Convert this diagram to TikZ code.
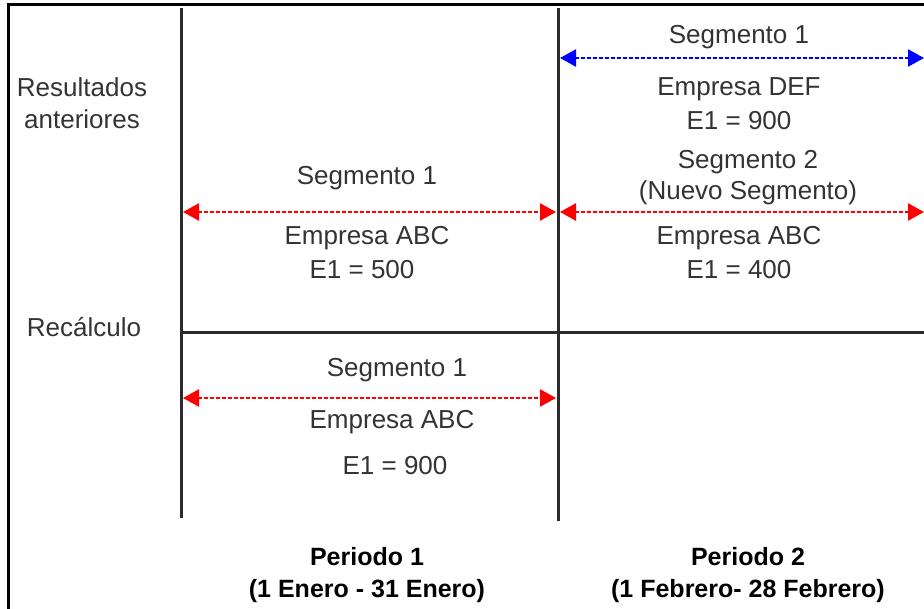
\documentclass[tikz,border=0pt]{standalone}
\usepackage{fontspec}
\setmainfont{Liberation Sans}
\usetikzlibrary{arrows.meta}
\definecolor{txt}{HTML}{333333}
\definecolor{ln}{HTML}{2B2B2B}
\definecolor{segred}{HTML}{FF0000}
\definecolor{segblue}{HTML}{0000FF}
\tikzset{
  lbl/.style={font=\fontsize{26}{30}\selectfont, text=txt, inner sep=0pt, anchor=center},
  bold/.style={font=\fontsize{25}{30}\selectfont\bfseries, text=black, inner sep=0pt, anchor=center},
  grid/.style={draw=ln, line width=3pt},
  frame/.style={draw=black, line width=3pt},
  segarrow/.style={line width=2.5pt, dash pattern=on 4pt off 2pt, {Triangle[length=16pt,width=17pt]}-{Triangle[length=16pt,width=17pt]}},
  redarrow/.style={segarrow, draw=segred, fill=segred},
  bluearrow/.style={segarrow, draw=segblue, fill=segblue}
}
\begin{document}
\begin{tikzpicture}[x=1pt,y=-1pt]
\useasboundingbox (0,0) rectangle (924,609);
\clip (0,0) rectangle (924,609);
% frame
\coordinate (fTL) at (8,5);
\coordinate (fTR) at (930,5);
\coordinate (fBL) at (8,615);
\draw[frame] (fTR) -- (fTL) -- (fBL);
% grid lines
\coordinate (v1t) at (181,8);
\coordinate (v1b) at (181,518);
\coordinate (v2t) at (558,8);
\coordinate (v2b) at (558,521);
\coordinate (hl) at (181,333);
\coordinate (hr) at (930,333);
\draw[grid] (v1t) -- (v1b);
\draw[grid] (v2t) -- (v2b);
\draw[grid] (hl) -- (hr);
% arrows
\coordinate (b1l) at (560,58);
\coordinate (b1r) at (924,58);
\coordinate (r1l) at (183,212);
\coordinate (r1r) at (556,212);
\coordinate (r2l) at (560,212);
\coordinate (r2r) at (924,212);
\coordinate (r3l) at (183,398);
\coordinate (r3r) at (556,398);
\draw[bluearrow] (b1l) -- (b1r);
\draw[redarrow] (r1l) -- (r1r);
\draw[redarrow] (r2l) -- (r2r);
\draw[redarrow] (r3l) -- (r3r);
% row labels
\node[lbl] (res) at (82,87) {Resultados};
\node[lbl] (ant) at (82,119) {anteriores};
\node[lbl] (rec) at (84,327) {Recálculo};
% period 2 upper
\node[lbl] (s1top) at (739,37) {Segmento 1};
\node[lbl] (edef) at (739,89) {Empresa DEF};
\node[lbl] (e900a) at (739,121) {E1 = 900};
\node[lbl] (s2) at (748,162) {Segmento 2};
\node[lbl] (nuevo) at (748,193) {(Nuevo Segmento)};
\node[lbl] (eabc2) at (739,238) {Empresa ABC};
\node[lbl] (e400) at (739,270) {E1 = 400};
% period 1 upper
\node[lbl] (s1a) at (367,178) {Segmento 1};
\node[lbl] (eabc1) at (367,238) {Empresa ABC};
\node[lbl] (e500) at (362,270) {E1 = 500};
% period 1 lower
\node[lbl] (s1b) at (397,370) {Segmento 1};
\node[lbl] (eabc3) at (392,422) {Empresa ABC};
\node[lbl] (e900b) at (395,466) {E1 = 900};
% periods
\node[bold] (p1) at (367,557) {Periodo 1};
\node[bold] (p1d) at (367,591) {(1 Enero - 31 Enero)};
\node[bold] (p2) at (748,557) {Periodo 2};
\node[bold] (p2d) at (748,591) {(1 Febrero- 28 Febrero)};
\end{tikzpicture}
\end{document}
